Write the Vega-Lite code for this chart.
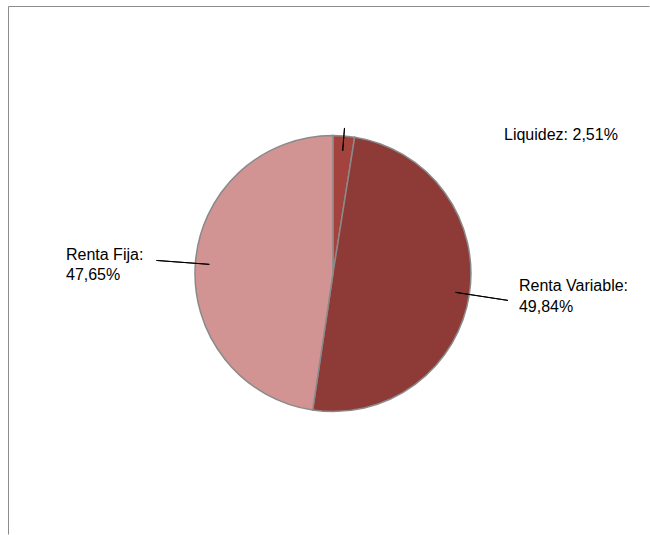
{
  "$schema": "https://vega.github.io/schema/vega-lite/v6.json",
  "width": 641,
  "height": 528,
  "autosize": "none",
  "padding": {"left": 8.5, "top": 6.5, "right": 0, "bottom": 0},
  "background": "white",
  "data": {
    "values": [
      {"categoria": "Liquidez", "porcentaje": 2.51, "orden": 1},
      {"categoria": "Renta Variable", "porcentaje": 49.84, "orden": 2},
      {"categoria": "Renta Fija", "porcentaje": 47.65, "orden": 3}
    ]
  },
  "transform": [
    {"window": [{"op": "sum", "field": "porcentaje", "as": "acum"}], "sort": [{"field": "orden"}], "frame": [null, 0]},
    {"calculate": "datum.acum - datum.porcentaje / 2", "as": "medio"},
    {"calculate": "datum.categoria + ':' + (datum.categoria === 'Liquidez' ? ' ' : '\\n') + replace(format(datum.porcentaje, '.2f'), '.', ',') + '%'", "as": "etiqueta"}
  ],
  "layer": [
    {
      "transform": [{"filter": "datum.orden === 1"}],
      "mark": {"type": "rect", "fill": null, "stroke": "#8c8c8c", "strokeWidth": 1, "strokeDash": [641, 1169, 528]},
      "encoding": {}
    },
    {
      "mark": {"type": "arc", "outerRadius": 138, "stroke": "#8a8a8a", "strokeWidth": 1.5, "xOffset": 4, "yOffset": 3},
      "encoding": {
        "theta": {"field": "porcentaje", "type": "quantitative", "stack": true, "scale": {"domain": [0, 100]}},
        "order": {"field": "orden", "type": "quantitative"},
        "color": {
          "field": "categoria",
          "type": "nominal",
          "scale": {"domain": ["Liquidez", "Renta Variable", "Renta Fija"], "range": ["#a4423e", "#8e3a37", "#d19492"]},
          "legend": null
        }
      }
    },
    {
      "transform": [{"filter": "datum.categoria === 'Liquidez'"}],
      "mark": {"type": "arc", "fill": null, "stroke": "#000000", "strokeWidth": 1, "xOffset": 4, "yOffset": 3, "outerRadius": 146, "innerRadius": 123},
      "encoding": {
        "theta": {"field": "medio", "type": "quantitative", "stack": null},
        "theta2": {"field": "medio"}
      }
    },
    {
      "transform": [{"filter": "datum.categoria !== 'Liquidez'"}],
      "mark": {"type": "arc", "fill": null, "stroke": "#000000", "strokeWidth": 1, "xOffset": 4, "yOffset": 3, "outerRadius": 177, "innerRadius": 124},
      "encoding": {
        "theta": {"field": "medio", "type": "quantitative", "stack": null},
        "theta2": {"field": "medio"}
      }
    },
    {
      "transform": [{"filter": "datum.categoria === 'Liquidez'"}],
      "mark": {"type": "text", "font": "Liberation Sans", "fontSize": 16, "align": "left", "baseline": "alphabetic", "radius": 146, "dx": 163.5, "dy": 15, "color": "#000000"},
      "encoding": {
        "theta": {"field": "medio", "type": "quantitative", "stack": null},
        "text": {"field": "etiqueta"}
      }
    },
    {
      "transform": [{"filter": "datum.categoria === 'Renta Variable'"}],
      "mark": {"type": "text", "font": "Liberation Sans", "fontSize": 16, "align": "left", "baseline": "alphabetic", "lineBreak": "\n", "lineHeight": 21, "radius": 178, "dx": 14, "dy": -6.6, "color": "#000000"},
      "encoding": {
        "theta": {"field": "medio", "type": "quantitative", "stack": null},
        "text": {"field": "etiqueta"}
      }
    },
    {
      "transform": [{"filter": "datum.categoria === 'Renta Fija'"}],
      "mark": {"type": "text", "font": "Liberation Sans", "fontSize": 16, "align": "left", "baseline": "alphabetic", "lineBreak": "\n", "lineHeight": 20, "radius": 175, "dx": -88.5, "dy": 2, "color": "#000000"},
      "encoding": {
        "theta": {"field": "medio", "type": "quantitative", "stack": null},
        "text": {"field": "etiqueta"}
      }
    }
  ],
  "config": {
    "view": {"stroke": null}
  }
}
